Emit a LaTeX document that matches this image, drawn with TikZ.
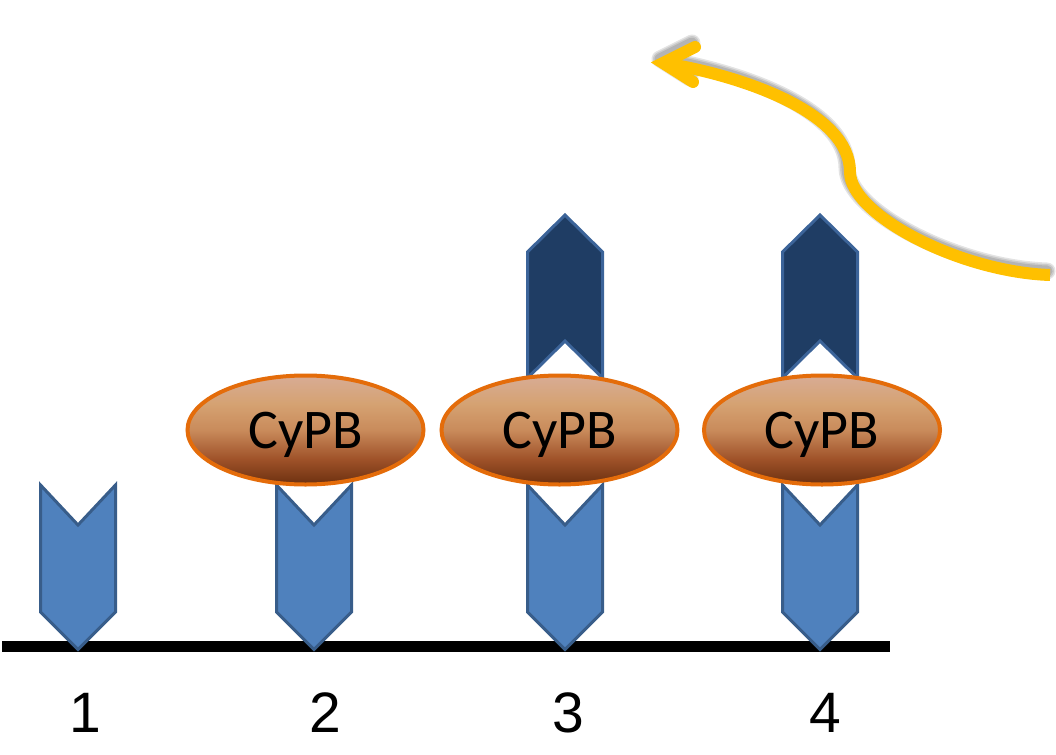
\documentclass[tikz,border=0pt]{standalone}
\usepackage{fontspec}
\setmainfont{Liberation Sans}
\newfontfamily\calibfont{Carlito}
\usetikzlibrary{shapes.geometric}
\definecolor{lblue}{HTML}{4F81BD}
\definecolor{lbord}{HTML}{385D8A}
\definecolor{dblue}{HTML}{1F3D64}
\definecolor{dbord}{HTML}{3C6499}
\definecolor{eorange}{HTML}{E46C0A}
\definecolor{gold}{HTML}{FFC000}
\definecolor{sA}{HTML}{6C300F}
\definecolor{sB}{HTML}{A0532A}
\definecolor{sC}{HTML}{C98B5B}
\definecolor{sD}{HTML}{D5A272}
\definecolor{sE}{HTML}{D8AC95}
\pgfdeclareverticalshading{cypbshade}{100bp}{color(0bp)=(sA); color(25bp)=(sA); color(37bp)=(sB); color(50bp)=(sC); color(62bp)=(sD); color(75bp)=(sE); color(100bp)=(sE)}
\newcommand\chevDown[1]{%
  \draw[lowchev] ({#1-37.5},485) -- (#1,525) -- ({#1+37.5},485) -- ({#1+37.5},612) -- (#1,649.5) -- ({#1-37.5},612) -- cycle;}
\newcommand\chevUp[1]{%
  \draw[highchev] ({#1-37.5},252) -- (#1,215) -- ({#1+37.5},252) -- ({#1+37.5},378) -- (#1,341) -- ({#1-37.5},378) -- cycle;}
\begin{document}
\begin{tikzpicture}[x=1pt,y=-1pt,
  lowchev/.style={fill=lblue,draw=lbord,line width=3pt,line join=miter},
  highchev/.style={fill=dblue,draw=dbord,line width=3pt,line join=miter},
  cypb/.style={ellipse,draw=eorange,line width=4pt,shading=cypbshade,
    minimum width=236pt,minimum height=109pt,inner sep=0pt,
    font=\calibfont\fontsize{56}{60}\selectfont,text depth=0pt,text height=36pt},
  num/.style={anchor=base,font=\fontsize{57}{60}\selectfont},
  shadowline/.style={draw=black,line cap=round,line join=round,opacity=0.11}]
\useasboundingbox (0,0) rectangle (1056,754);
% baseline
\draw[line width=11pt] (2,646.5) -- (890,646.5);
% chevrons
\chevDown{78}
\chevDown{314}
\chevDown{565}
\chevDown{820}
\chevUp{565}
\chevUp{820}
% CyPB ellipses
\node[cypb] (e2) at (305.5,430) {CyPB};
\node[cypb] (e3) at (559.5,430) {CyPB};
\node[cypb] (e4) at (822,430) {CyPB};
% numbers
\node[num] (n1) at (85,732) {1};
\node[num] (n2) at (325,732) {2};
\node[num] (n3) at (568,732) {3};
\node[num] (n4) at (825,732) {4};
% yellow arrow shadow
\begin{scope}[shift={(-3,-4)}]
\foreach \w in {17,14,11}{
\draw[shadowline,line width=\w pt] (1050,275) .. controls (960,272) and (850,215) .. (850,172)
   .. controls (850,112) and (740,75) .. (663,63)
   (695,47) -- (663,63) -- (693,82);}
\end{scope}
% yellow arrow
\coordinate (astart) at (1050,275);
\coordinate (amid) at (850,172);
\coordinate (atip) at (663,63);
\draw[gold,line width=12pt] (astart) .. controls (960,272) and (850,215) .. (amid)
   .. controls (850,112) and (740,75) .. (atip);
\draw[gold,line width=12pt,line cap=round,line join=miter] (695,47) -- (atip) -- (693,82);
\end{tikzpicture}
\end{document}
